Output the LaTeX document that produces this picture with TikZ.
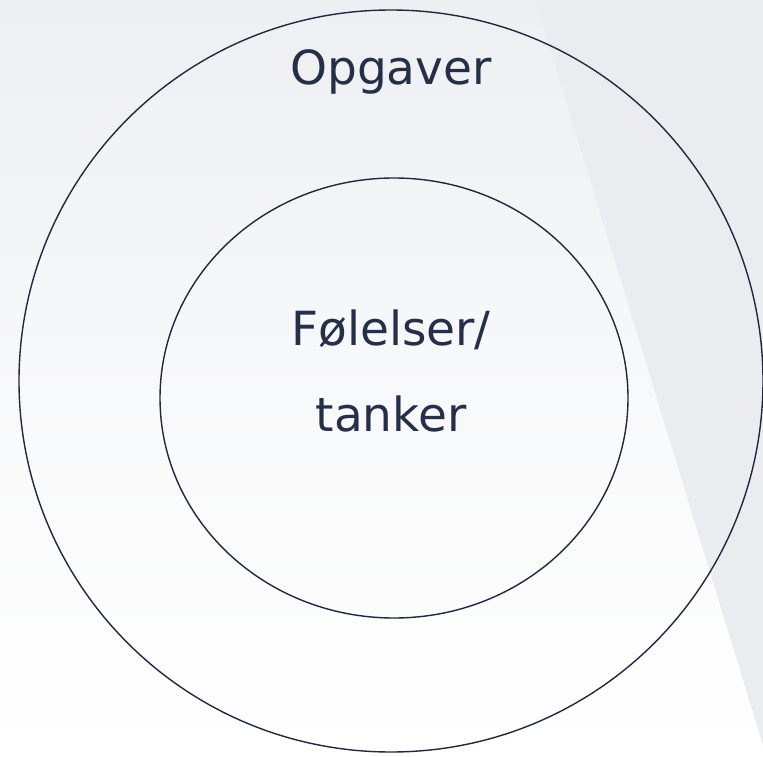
\documentclass[tikz,border=0pt]{standalone}
\usepackage{fontspec}
\setmainfont{DejaVu Sans}
\usetikzlibrary{shapes.geometric}
\definecolor{navy}{HTML}{1E2940}
\definecolor{tekst}{HTML}{253048}
\definecolor{bgtop}{HTML}{EDEFF2}
\definecolor{bgflade}{HTML}{EAECEF}
\begin{document}
\begin{tikzpicture}[
x=1pt, y=-1pt,
every node/.style={font=\fontsize{47}{87}\selectfont, text=tekst},
ring/.style={draw=navy, line width=1.4pt, ellipse, inner sep=0pt},
etiket/.style={align=center, inner sep=0pt}
]
\useasboundingbox (0,0) rectangle (763,757);
% Baggrund
\shade[top color=bgtop, bottom color=white, middle color=white!60!bgtop] (0,0) rectangle (763,757);
\fill[bgflade] (535,0) -- (763,0) -- (763,745) -- cycle;
% Cirkler
\node[ring, minimum width=744pt, minimum height=742pt] (opgaver) at (391,381) {};
\node[ring, minimum width=468pt, minimum height=440pt] (foelelser) at (394,398) {};
% Tekster
\node[etiket, anchor=base] (opgaverTekst) at (391,85) {Opgaver};
\node[etiket, anchor=base] (foelelserTekst) at (391,345) {Følelser/};
\node[etiket, anchor=base] (tankerTekst) at (391,431) {tanker};
\end{tikzpicture}
\end{document}
